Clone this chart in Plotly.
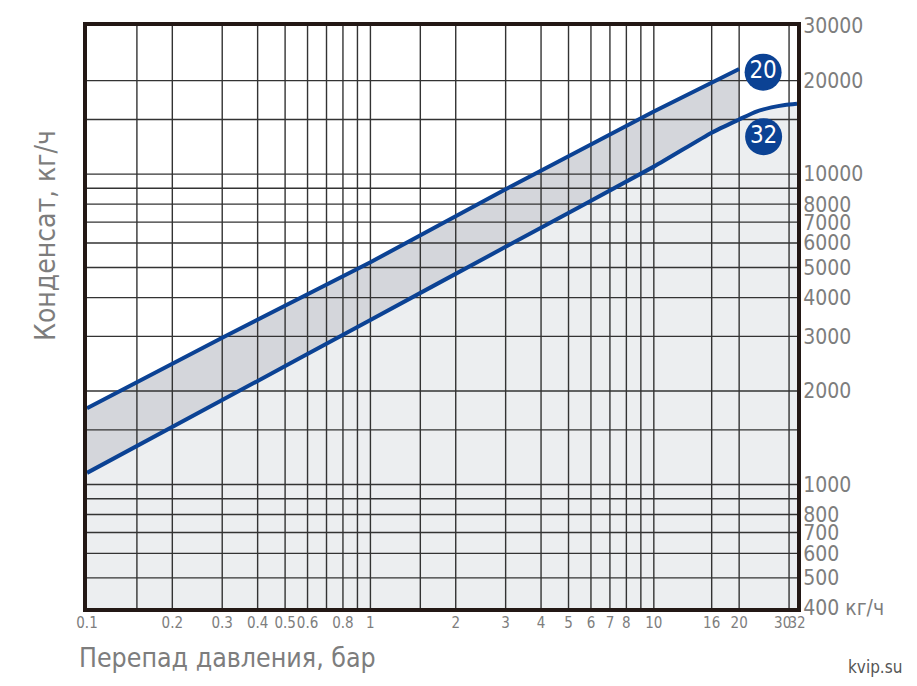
import plotly.graph_objects as go
import numpy as np

# ---- data ----
X_MIN, X_MAX = 0.1, 32
Y_MIN, Y_MAX = 400, 30000

x_tick_vals = [0.1, 0.2, 0.3, 0.4, 0.5, 0.6, 0.8, 1, 2, 3, 4, 5, 6, 7, 8, 10, 16, 20, 30, 32]
x_tick_text = ["0.1", "0.2", "0.3", "0.4", "0.5", "0.6", "0.8", "1", "2", "3", "4", "5", "6", "7", "8", "10", "16", "20", "30\u00a0\u00a0\u00a0", "32"]
x_grid = [0.15, 0.2, 0.3, 0.4, 0.5, 0.6, 0.7, 0.8, 0.9, 1, 1.5, 2, 3, 4, 5, 6, 7, 8, 9, 10, 16, 20, 30]

y_tick_vals = [400, 500, 600, 700, 800, 1000, 2000, 3000, 4000, 5000, 6000, 7000, 8000, 10000, 20000, 30000]
y_tick_text = ["400 кг/ч", "500", "600", "700", "800", "1000", "2000", "3000", "4000", "5000", "6000", "7000", "8000", "10000", "20000", "30000"]
y_grid = [500, 600, 700, 800, 900, 1000, 1500, 2000, 3000, 4000, 5000, 6000, 7000, 8000, 9000, 10000, 15000, 20000]

# curve "20"
upper_x = [0.1, 0.3, 1, 3, 10, 20]
upper_y = [1760, 2970, 5200, 8930, 15900, 21800]
# curve "32"
lower_x = [0.1, 0.3, 1, 3, 10, 16, 20, 23, 26, 29, 32]
lower_y = [1090, 1870, 3390, 5830, 10570, 13600, 15000, 15900, 16400, 16700, 16850]

labels = ["20", "32"]
label_x = [24.3, 24.4]
label_y = [21300, 13200]

BLUE = "#0b4294"
GRID = "#333333"
FRAME = "#231815"
TXT = "#7d7d7d"
FONT = "DejaVu Sans Condensed, DejaVu Sans, sans-serif"

fig = go.Figure()

# light area under the lower curve
fx = lower_x + [X_MAX, X_MIN]
fy = lower_y + [Y_MIN, Y_MIN]
fig.add_trace(go.Scatter(x=fx, y=fy, fill="toself", fillcolor="#eceef0",
                         line=dict(width=0), mode="lines", hoverinfo="skip"))

# band between the curves
lx_b = [x for x in lower_x if x <= upper_x[-1]]
ly_b = lower_y[:len(lx_b)]
bx = upper_x + lx_b[::-1]
by = upper_y + ly_b[::-1]
fig.add_trace(go.Scatter(x=bx, y=by, fill="toself", fillcolor="#d4d6db",
                         line=dict(width=0), mode="lines", hoverinfo="skip"))

# grid lines drawn above the fills
gx, gy = [], []
for v in x_grid:
    gx += [v, v, None]
    gy += [Y_MIN, Y_MAX, None]
for v in y_grid:
    gx += [X_MIN, X_MAX, None]
    gy += [v, v, None]
fig.add_trace(go.Scatter(x=gx, y=gy, mode="lines", line=dict(color=GRID, width=1.4),
                         hoverinfo="skip"))

# curves
fig.add_trace(go.Scatter(x=upper_x, y=upper_y, mode="lines",
                         line=dict(color=BLUE, width=4)))
fig.add_trace(go.Scatter(x=lower_x, y=lower_y, mode="lines",
                         line=dict(color=BLUE, width=4, shape="spline", smoothing=0.6)))

# circle labels
fig.add_trace(go.Scatter(x=label_x, y=label_y, mode="markers+text", text=labels,
                         marker=dict(size=37, color=BLUE, line=dict(width=0)),
                         textposition="middle center",
                         textfont=dict(color="white", size=24, family=FONT),
                         cliponaxis=False, hoverinfo="skip"))

fig.update_layout(
    width=909, height=678,
    margin=dict(l=79, r=120, t=18, b=78, autoexpand=False),
    paper_bgcolor="white", plot_bgcolor="white",
    showlegend=False,
    font=dict(family=FONT, color=TXT),
    xaxis=dict(type="log", range=[np.log10(X_MIN), np.log10(X_MAX)],
               tickvals=x_tick_vals, ticktext=x_tick_text, showgrid=False,
               zeroline=False, ticks="", ticklabelstandoff=-2, tickangle=0,
               automargin=False,
               tickfont=dict(size=15, color=TXT, family=FONT),
               showline=True, linewidth=4, linecolor=FRAME, mirror=True),
    yaxis=dict(type="log", range=[np.log10(Y_MIN), np.log10(Y_MAX)], side="right",
               tickvals=y_tick_vals, ticktext=y_tick_text, showgrid=False,
               zeroline=False, ticks="", ticklabelstandoff=-2, automargin=False,
               tickfont=dict(size=21, color=TXT, family=FONT),
               showline=True, linewidth=4, linecolor=FRAME, mirror=True),
    annotations=[
        dict(text="Конденсат, кг/ч", xref="paper", yref="paper",
             x=(45 - 87) / 710, y=(608 - 236) / 582, textangle=-90,
             xanchor="center", yanchor="middle", showarrow=False,
             font=dict(size=28, color=TXT, family=FONT)),
        dict(text="Перепад давления, бар", xref="paper", yref="paper",
             x=(77 - 87) / 710, y=-(657 - 608) / 582,
             xanchor="left", yanchor="middle", showarrow=False,
             font=dict(size=26.5, color=TXT, family=FONT)),
        dict(text="kvip.su", xref="paper", yref="paper",
             x=(904 - 87) / 710, y=-(667 - 608) / 582,
             xanchor="right", yanchor="middle", showarrow=False,
             font=dict(size=17, color="#555555", family=FONT)),
    ],
)

fig.write_html("out.html")
